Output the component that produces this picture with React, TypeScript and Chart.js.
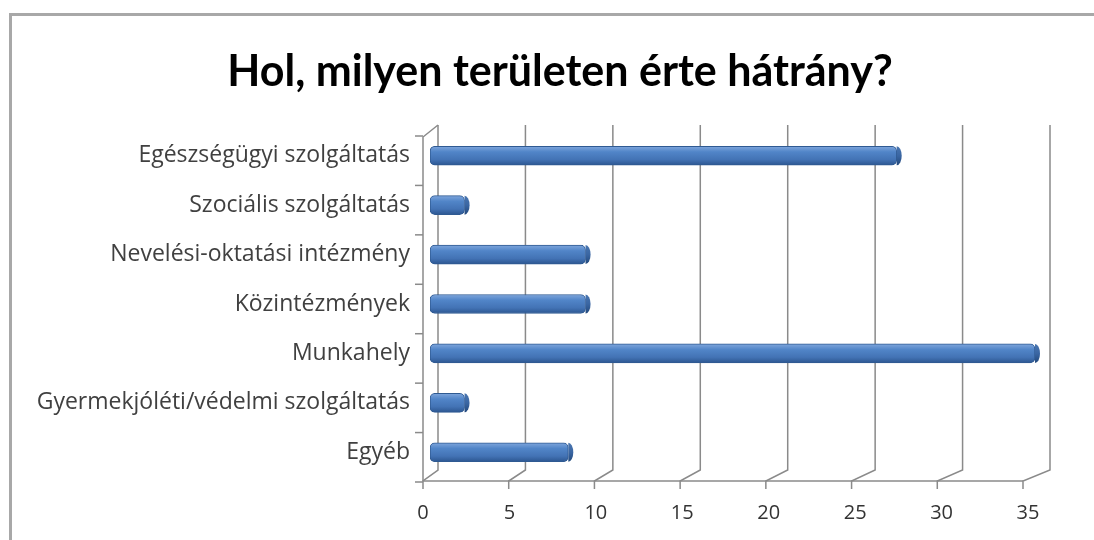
import React, { useEffect, useRef } from "react";
import { Chart, registerables } from "chart.js";

Chart.register(...registerables);

const categories = [
  "Egészségügyi szolgáltatás",
  "Szociális szolgáltatás",
  "Nevelési-oktatási intézmény",
  "Közintézmények",
  "Munkahely",
  "Gyermekjóléti/védelmi szolgáltatás",
  "Egyéb",
];
const values = [27, 2, 9, 9, 35, 2, 8];
const xTickValues = [0, 5, 10, 15, 20, 25, 30, 35];
const titleText = "Hol, milyen területen érte hátrány?";

const TITLE_FONT = "Lato, 'Open Sans', sans-serif";
const LABEL_FONT = "'Open Sans', Lato, sans-serif";

const titlePlugin = {
  id: "centredTitle",
  afterDraw(chart: any) {
    const { ctx } = chart;
    ctx.save();
    ctx.font = `bold 43px ${TITLE_FONT}`;
    ctx.fillStyle = "#000";
    ctx.textAlign = "center";
    ctx.textBaseline = "middle";
    ctx.fillText(titleText, 560, 72);
    ctx.restore();
  },
};

const wallPlugin = {
  id: "wall3d",
  beforeDatasetsDraw(chart: any) {
    const { ctx, chartArea } = chart;
    const xs = chart.scales.x;
    const ys = chart.scales.y;
    const L = chartArea.left;
    const R = chartArea.right;
    const T = chartArea.top;
    const B = chartArea.bottom;
    const W = R - L;
    const front = (px: number) => L - 7 + ((px - L) / W) * (W - 5);
    const back = (px: number) => L + 8 + ((px - L) / W) * (W + 7);
    const backTop = T - 6;
    const backBottom = B - 7;
    const frontBottom = B + 4;
    const frontTop = T + 6;
    ctx.save();
    ctx.strokeStyle = "#8a8a8a";
    ctx.lineWidth = 1.5;
    xTickValues.forEach((v) => {
      const px = xs.getPixelForValue(v);
      const bx = back(px);
      const fx = front(px);
      ctx.beginPath();
      ctx.moveTo(bx, backTop);
      ctx.lineTo(bx, backBottom);
      ctx.lineTo(fx, frontBottom);
      ctx.lineTo(fx, frontBottom + 8);
      ctx.stroke();
    });
    ctx.beginPath();
    ctx.moveTo(front(L), frontBottom);
    ctx.lineTo(front(R), frontBottom);
    ctx.stroke();
    ctx.beginPath();
    ctx.moveTo(back(L), backTop);
    ctx.lineTo(front(L), frontTop);
    ctx.lineTo(front(L), frontBottom);
    ctx.stroke();
    const n = categories.length;
    for (let i = 0; i <= n; i++) {
      const y0 = ys.getPixelForValue(i - 0.5) + 5;
      ctx.beginPath();
      ctx.moveTo(front(L) - 8, y0);
      ctx.lineTo(front(L), y0);
      ctx.stroke();
    }
    ctx.restore();
  },
  afterDatasetsDraw(chart: any) {
    const { ctx } = chart;
    const meta = chart.getDatasetMeta(0);
    ctx.save();
    meta.data.forEach((el: any) => {
      const h = el.height;
      const g = ctx.createLinearGradient(0, el.y - h / 2, 0, el.y + h / 2);
      g.addColorStop(0, "#4a76b0");
      g.addColorStop(0.5, "#3a66a3");
      g.addColorStop(1, "#23497c");
      ctx.fillStyle = g;
      ctx.beginPath();
      ctx.ellipse(el.x, el.y, 5, h / 2, 0, -Math.PI / 2, Math.PI / 2);
      ctx.closePath();
      ctx.fill();
    });
    ctx.restore();
  },
};

export default function App() {
  const ref = useRef<HTMLCanvasElement | null>(null);
  useEffect(() => {
    if (!ref.current) return;
    const chart = new Chart(ref.current, {
      type: "bar",
      data: {
        labels: categories,
        datasets: [
          {
            data: values,
            barThickness: 19,
            borderWidth: 1,
            borderColor: "#2f5a92",
            borderSkipped: false,
            borderRadius: 5,
            backgroundColor: (c: any) => {
              const ch = c.chart;
              const ys = ch.scales && ch.scales.y;
              if (!ys || !ch.chartArea) return "#4f81bd";
              const y = ys.getPixelForValue(c.dataIndex);
              if (!isFinite(y)) return "#4f81bd";
              const g = ch.ctx.createLinearGradient(0, y - 9.5, 0, y + 9.5);
              g.addColorStop(0, "#7fa6dc");
              g.addColorStop(0.3, "#5185c8");
              g.addColorStop(0.7, "#4373b5");
              g.addColorStop(1, "#2c5690");
              return g;
            },
          } as any,
        ],
      },
      options: {
        indexAxis: "y",
        animation: false,
        responsive: false,
        devicePixelRatio: 1,
        layout: { padding: { left: 15, right: 59, top: 131, bottom: 0 } },
        plugins: {
          legend: { display: false },
          tooltip: { enabled: false },
          title: { display: false },
        },
        scales: {
          x: {
            min: 0,
            max: 35,
            afterBuildTicks: (s: any) => {
              s.ticks = xTickValues.map((v) => ({ value: v }));
            },
            afterFit: (s: any) => {
              s.height = 63;
            },
            grid: { display: false, drawTicks: false },
            border: { display: false },
            ticks: {
              color: "#333",
              font: { family: LABEL_FONT, size: 20 },
              padding: 24,
              labelOffset: -7,
            },
          },
          y: {
            afterFit: (s: any) => {
              s.width = 415;
            },
            grid: { display: false, drawTicks: false },
            border: { display: false },
            ticks: {
              color: "#404040",
              font: { family: LABEL_FONT, size: 23 },
              padding: 20,
            },
          },
        },
      } as any,
      plugins: [wallPlugin, titlePlugin],
    });
    return () => chart.destroy();
  }, []);

  return (
    <div
      style={{
        position: "fixed",
        left: 0,
        top: 0,
        width: 1094,
        height: 540,
        overflow: "hidden",
        background: "#fff",
      }}
    >
      <div
        style={{
          position: "absolute",
          left: 9,
          top: 13,
          width: 2000,
          height: 2000,
          borderLeft: "3px solid #a8a8a8",
          borderTop: "3px solid #a8a8a8",
        }}
      />
      <canvas
        ref={ref}
        width={1094}
        height={540}
        style={{ position: "absolute", left: 0, top: 0, width: 1094, height: 540 }}
      />
    </div>
  );
}
